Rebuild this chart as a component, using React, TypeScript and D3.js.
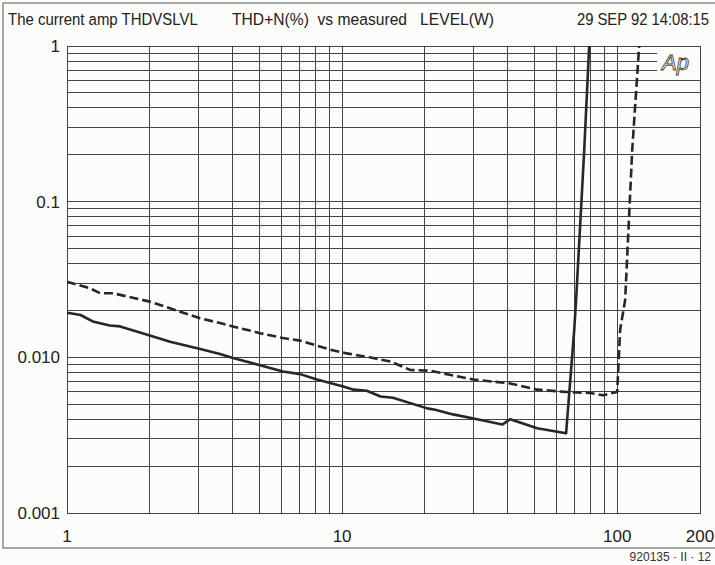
import React from "react";
import * as d3 from "d3";

const solidLevel = [1.0, 1.03, 1.12, 1.24, 1.43, 1.56, 2.0, 2.37, 3.05, 3.6, 4.01, 5.03, 6.1, 7.04, 8.11, 10.1, 11.0, 12.3, 13.8, 15.3, 20.4, 21.8, 25.3, 31.0, 38.2, 40.8, 51.2, 65.2, 69.8, 70.9, 75.9, 79.1];
const solidThd = [0.0193, 0.0192, 0.0187, 0.017, 0.016, 0.0158, 0.0138, 0.0126, 0.0113, 0.0105, 0.0099, 0.0089, 0.0081, 0.0078, 0.0072, 0.0065, 0.0062, 0.0061, 0.0056, 0.0055, 0.0047, 0.0046, 0.0043, 0.004, 0.0037, 0.004, 0.0035, 0.00325, 0.015, 0.0234, 0.215, 1.0];

const dashLevel = [1.0, 1.21, 1.32, 1.47, 2.0, 3.05, 3.6, 4.01, 5.03, 6.1, 7.04, 9.05, 10.4, 12.6, 15.0, 17.7, 20.9, 30.0, 40.8, 51.2, 64.7, 79.8, 89.0, 100, 102.5, 106.9, 113.4, 120.2];
const dashThd = [0.0306, 0.0278, 0.0258, 0.0258, 0.0228, 0.0178, 0.0166, 0.0158, 0.0143, 0.0133, 0.0128, 0.0112, 0.0106, 0.01, 0.0094, 0.0083, 0.0082, 0.0072, 0.0068, 0.0062, 0.006, 0.0059, 0.0057, 0.006, 0.015, 0.0234, 0.215, 1.0];

const xTickLabels = ["1", "10", "100", "200"];
const xTickValues = [1, 10, 100, 200];
const yTickLabels = ["1", "0.1", "0.010", "0.001"];
const yTickValues = [1, 0.1, 0.01, 0.001];

export default function App() {
  const left = 67, right = 700, top = 46, bottom = 513;
  const x = d3.scaleLog().domain([1, 200]).range([left, right]);
  const y = d3.scaleLog().domain([0.001, 1]).range([bottom, top]);

  const vGrid: number[] = [];
  for (const dec of [1, 10]) for (let k = 1; k <= 9; k++) vGrid.push(dec * k);
  vGrid.push(100);
  const hGrid: number[] = [];
  for (const dec of [0.001, 0.01, 0.1]) for (let k = 1; k <= 9; k++) hGrid.push(+(dec * k).toPrecision(3));
  hGrid.push(1);

  const line = d3.line<[number, number]>().x(d => x(d[0])).y(d => y(d[1]));
  const solidPts = solidLevel.map((v, i) => [v, solidThd[i]] as [number, number]);
  const dashPts = dashLevel.map((v, i) => [v, dashThd[i]] as [number, number]);
  const gridColor = "#444";
  const font = "'Liberation Sans', Arial, sans-serif";

  return (
    <svg width={715} height={565} style={{ position: "absolute", left: 0, top: 0, background: "#fcfcfa" }}>
      <defs>
        <clipPath id="plotclip">
          <rect x={left} y={top} width={right - left} height={bottom - top} />
        </clipPath>
      </defs>
      <rect x={3} y={3} width={730} height={545} fill="none" stroke="#555" strokeWidth={1} />
      <g fontFamily={font} fontSize={17} fill="#222">
        <g transform="translate(8,25) scale(0.88,1)">
          <text x={0} y={0}>The current amp THDVSLVL</text>
        </g>
        <g transform="translate(232,25) scale(0.92,1)">
          <text x={0} y={0} xmlSpace="preserve">{"THD+N(%)  vs measured   LEVEL(W)"}</text>
        </g>
        <g transform="translate(709,25) scale(0.87,1)">
          <text x={0} y={0} textAnchor="end">29 SEP 92 14:08:15</text>
        </g>
      </g>
      <g stroke={gridColor} strokeWidth={1} shapeRendering="crispEdges">
        {vGrid.map((v, i) => (
          <line key={"v" + i} x1={x(v)} x2={x(v)} y1={top} y2={bottom} />
        ))}
        {hGrid.map((v, i) => (
          <line key={"h" + i} x1={left} x2={v >= 0.7 && v < 1 ? 657 : right} y1={y(v)} y2={y(v)} />
        ))}
        <rect x={left} y={top} width={right - left} height={bottom - top} fill="none" />
      </g>
      <text x={662} y={70} fontFamily={font} fontSize={22} fontStyle="italic" fill="none" stroke="#444" strokeWidth={0.9}>Ap</text>
      <g clipPath="url(#plotclip)" fill="none" stroke="#2b2626" strokeWidth={2.6} strokeLinejoin="round">
        <path d={line(solidPts) || ""} />
        <path d={line(dashPts) || ""} strokeDasharray="9,4" />
      </g>
      <g fontFamily={font} fontSize={17} fill="#222">
        {yTickValues.map((v, i) => (
          <text key={"yl" + i} x={60} y={y(v) + 6} textAnchor="end">{yTickLabels[i]}</text>
        ))}
        {xTickValues.map((v, i) => (
          <text key={"xl" + i} x={x(v)} y={542} textAnchor="middle">{xTickLabels[i]}</text>
        ))}
      </g>
      <text x={711} y={561} textAnchor="end" fontFamily={font} fontSize={12} fill="#333">920135 · II · 12</text>
    </svg>
  );
}
